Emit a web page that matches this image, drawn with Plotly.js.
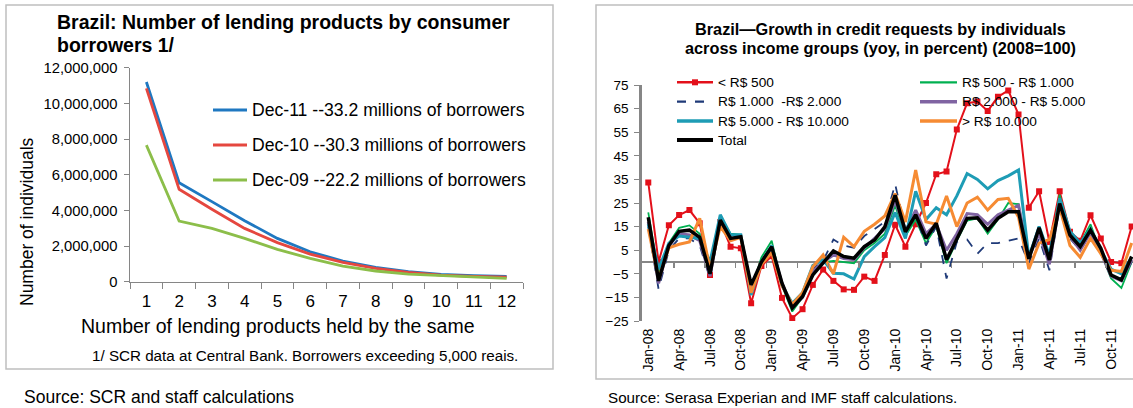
<!DOCTYPE html>
<html>
<head>
<meta charset="utf-8">
<script src="https://cdn.plot.ly/plotly-3.0.1.min.js"></script>
<style>html,body{margin:0;padding:0;background:#fff;}#chart{width:1133px;height:408px;}</style>
</head>
<body>
<div id="chart"></div>
<script>
// ---------- Left chart data ----------
const products = ['1','2','3','4','5','6','7','8','9','10','11','12'];
const dec11 = [11200000, 5550000, 4490000, 3420000, 2430000, 1680000, 1160000, 800000, 560000, 410000, 340000, 300000];
const dec10 = [10840000, 5180000, 4060000, 2990000, 2190000, 1550000, 1080000, 750000, 520000, 370000, 300000, 260000];
const dec09 = [7660000, 3400000, 2990000, 2430000, 1810000, 1310000, 880000, 600000, 430000, 340000, 280000, 190000];
const leftNames = ['Dec-11 --33.2 millions of borrowers', 'Dec-10 --30.3 millions of borrowers', 'Dec-09 --22.2 millions of borrowers'];
const leftColors = ['#1F78C1', '#E5473F', '#8CBE4A'];

// ---------- Right chart data ----------
const months = ['Jan-08','Feb-08','Mar-08','Apr-08','May-08','Jun-08','Jul-08','Aug-08','Sep-08','Oct-08','Nov-08','Dec-08',
  'Jan-09','Feb-09','Mar-09','Apr-09','May-09','Jun-09','Jul-09','Aug-09','Sep-09','Oct-09','Nov-09','Dec-09',
  'Jan-10','Feb-10','Mar-10','Apr-10','May-10','Jun-10','Jul-10','Aug-10','Sep-10','Oct-10','Nov-10','Dec-10',
  'Jan-11','Feb-11','Mar-11','Apr-11','May-11','Jun-11','Jul-11','Aug-11','Sep-11','Oct-11','Nov-11','Dec-11'];
const monthTicks = ['Jan-08','Apr-08','Jul-08','Oct-08','Jan-09','Apr-09','Jul-09','Oct-09','Jan-10','Apr-10','Jul-10','Oct-10','Jan-11','Apr-11','Jul-11','Oct-11'];
// quarter boundaries (between Mar/Apr, Jun/Jul, ...) as category-index positions for the small marks on the zero line
const quarterMarks = [2.5,5.5,8.5,11.5,14.5,17.5,20.5,23.5,26.5,29.5,32.5,35.5,38.5,41.5,44.5];
const incLt500 = [33.7,0,15.6,19.9,22,16.4,-5.5,17,6.5,5.8,-17.5,-1.7,
  2.5,-15.2,-23.8,-20,-9.7,-3.2,-8,-11.6,-11.8,-6.2,-8,3,
  15.8,6.5,16,25,37.2,38.4,56.1,67.3,68,64,70,72.7,
  62.5,23,30,8.5,30,12.8,9,19.8,10,0,-0.5,15];
const inc500_1000 = [21,-5,8,14.5,15.5,12,-4,19.5,12,11.5,-12,2,
  9,-10,-21,-15,-4,0,0.5,0,-0.5,5,8,12,
  24,11,18,8,15,-0.5,9,17.5,18.5,12,18,25,
  24.5,2,13,3,28.5,12,8,16,4,-7,-11,0];
const inc1000_2000 = [15,-11.5,5,10,10,7,-7,17,9,10.5,-12,0,
  5,-10,-19,-14,-3,0.5,9.5,7,6,11,14,17,
  33,14,20,7,15,-7,8.5,9.5,3.5,8,8,9,
  10,-0.5,10,-3.5,24,10,5,12,4,-6,-8,0];
const inc2000_5000 = [17,-9,7,12,11.5,9,-6,18,10,10.5,-11,0,
  6,-9,-19,-15,-4,0,3,1.5,1,6,10,14,
  26,13,22,12,16,5,12,20.5,20,16,20,22,
  24,2,12,-1,25,11,5,12.5,4,-6,-8,1];
const inc5000_10000 = [16,-3,8,11,10.5,10,0,20,11.5,11.5,-14,0,
  7,-10,-17.5,-13,-1.5,1,-4.8,-5,-7.2,2.3,6.5,10.3,
  21,10,30,18,23,20,28,37.5,35,31,34.5,36.5,
  39,2,15,3,27,13,8,14,5,-3,-5,2];
const incGt10000 = [14,-7,6,7.5,8.5,18.5,-3,15,9,10.5,-13,-1,
  4,-10,-18,-13,-2,3,-5,10.5,6.5,13,16,19.5,
  29,17,39,17,16,28,15,25,27.5,22,26.5,27,
  19,-3,8,9.5,23,7,2,10,3.5,-3.5,-4,8];
const incTotal = [19,-8,7,13,13.5,10.5,-5,17.8,10,10.7,-9.7,0,
  6.5,-9,-19.5,-14.6,-5.5,-0.5,4.7,2.3,1.6,6.5,9.3,14.9,
  28.3,12.8,20,10,16.4,1,10,18.5,18.7,13.5,18.5,21.3,
  21.3,1.3,14.5,0.9,24.8,11.4,6.5,13.5,5.8,-5.5,-7.6,2.3];
const rightNames = ['&lt; R$ 500','R$ 500 - R$ 1.000','R$ 1.000 \u00a0-R$ 2.000','R$ 2.000 - R$ 5.000','R$ 5.000 - R$ 10.000','&gt; R$ 10.000','Total'];

// ---------- helpers (page pixel -> paper fraction) ----------
const W = 1133, H = 408;
const X = px => px / W;
const Y = py => 1 - py / H;
const FONT = 'Liberation Sans, Arial, sans-serif';

const traces = [];
[dec11, dec10, dec09].forEach((s, k) => {
  traces.push({x: products, y: s, name: leftNames[k], type: 'scatter', mode: 'lines',
    line: {color: leftColors[k], width: 2.8}, xaxis: 'x', yaxis: 'y', showlegend: false});
});

const rightSeries = [
  [incLt500, '#E3101A', 2, 'solid', true],
  [inc500_1000, '#00B050', 1.8, 'solid', false],
  [inc1000_2000, '#1F3A78', 1.8, 'dash', false],
  [inc2000_5000, '#8064A2', 3, 'solid', false],
  [inc5000_10000, '#1E9CB5', 3, 'solid', false],
  [incGt10000, '#F68B33', 3, 'solid', false],
  [incTotal, '#000000', 3.5, 'solid', false]
];
// empty carrier trace so the overlaid tick-mark axis on the zero line is drawn
traces.push({x: [], y: [], type: 'scatter', mode: 'lines', xaxis: 'x3', yaxis: 'y2', showlegend: false, hoverinfo: 'skip'});
rightSeries.forEach((s, k) => {
  traces.push({x: months, y: s[0], name: rightNames[k], type: 'scatter', mode: s[4] ? 'lines+markers' : 'lines',
    line: {color: s[1], width: s[2], dash: s[3]}, marker: {symbol: 'square', size: 6, color: s[1]},
    xaxis: 'x2', yaxis: 'y2', showlegend: false});
});

const frameColor = '#BFBFBF';
const shapes = [
  {type: 'rect', xref: 'paper', yref: 'paper', x0: X(6), x1: X(553), y0: Y(369), y1: Y(5), line: {color: frameColor, width: 1.5}},
  {type: 'rect', xref: 'paper', yref: 'paper', x0: X(596), x1: X(1145), y0: Y(379), y1: Y(5), line: {color: frameColor, width: 1.5}}
];
const annotations = [
  {xref: 'paper', yref: 'paper', x: X(55), y: Y(22), xanchor: 'left', yanchor: 'middle', showarrow: false,
    text: '<b>Brazil: Number of lending products by consumer</b>', font: {size: 19.5, family: FONT}},
  {xref: 'paper', yref: 'paper', x: X(55), y: Y(45), xanchor: 'left', yanchor: 'middle', showarrow: false,
    text: '<b>borrowers 1/</b>', font: {size: 19.5, family: FONT}},
  {xref: 'paper', yref: 'paper', x: X(27), y: Y(222), xanchor: 'center', yanchor: 'middle', showarrow: false, textangle: -90,
    text: 'Number of individuals', font: {size: 17.5, family: FONT}},
  {xref: 'paper', yref: 'paper', x: X(277), y: Y(326), xanchor: 'center', yanchor: 'middle', showarrow: false,
    text: 'Number of lending products held by the same', font: {size: 19.5, family: FONT}},
  {xref: 'paper', yref: 'paper', x: X(305), y: Y(355), xanchor: 'center', yanchor: 'middle', showarrow: false,
    text: '1/ SCR data at Central Bank. Borrowers exceeding 5,000 reais.', font: {size: 15.2, family: FONT}},
  {xref: 'paper', yref: 'paper', x: X(22), y: Y(397), xanchor: 'left', yanchor: 'middle', showarrow: false,
    text: 'Source: SCR and staff calculations', font: {size: 17.5, family: FONT}},
  {xref: 'paper', yref: 'paper', x: X(880), y: Y(29), xanchor: 'center', yanchor: 'middle', showarrow: false,
    text: '<b>Brazil\u2014Growth in credit requests by individuals</b>', font: {size: 16.3, family: FONT}},
  {xref: 'paper', yref: 'paper', x: X(880), y: Y(48), xanchor: 'center', yanchor: 'middle', showarrow: false,
    text: '<b>across income groups (yoy, in percent) (2008=100)</b>', font: {size: 16.3, family: FONT}},
  {xref: 'paper', yref: 'paper', x: X(606), y: Y(397), xanchor: 'left', yanchor: 'middle', showarrow: false,
    text: 'Source: Serasa Experian and IMF staff calculations.', font: {size: 15.2, family: FONT}}
];

// ---------- legends (drawn as key samples + labels) ----------
const leftLegendRows = [110, 145, 180];
leftNames.forEach((nm, k) => {
  shapes.push({type: 'line', xref: 'paper', yref: 'paper', x0: X(213), x1: X(247), y0: Y(leftLegendRows[k]), y1: Y(leftLegendRows[k]),
    line: {color: leftColors[k], width: 3}});
  annotations.push({xref: 'paper', yref: 'paper', x: X(250), y: Y(leftLegendRows[k]), xanchor: 'left', yanchor: 'middle',
    showarrow: false, text: nm, font: {size: 17.6, family: FONT}});
});
const rightRows = [82.3, 101.7, 121, 140];
rightSeries.forEach((s, k) => {
  const col = k % 2, row = Math.floor(k / 2);
  const x0 = col === 0 ? 677 : 920, x1 = col === 0 ? 713 : 957, tx = col === 0 ? 716 : 960;
  const yy = rightRows[row];
  shapes.push({type: 'line', xref: 'paper', yref: 'paper', x0: X(x0), x1: X(x1), y0: Y(yy), y1: Y(yy),
    line: {color: s[1], width: s[2] + 0.5, dash: s[3]}});
  if (s[4]) {
    const cx = (x0 + x1) / 2;
    shapes.push({type: 'rect', xref: 'paper', yref: 'paper', x0: X(cx - 3), x1: X(cx + 3), y0: Y(yy + 3), y1: Y(yy - 3),
      line: {width: 0}, fillcolor: s[1]});
  }
  annotations.push({xref: 'paper', yref: 'paper', x: X(tx), y: Y(yy), xanchor: 'left', yanchor: 'middle',
    showarrow: false, text: rightNames[k], font: {size: 13.7, family: FONT}});
});

const layout = {
  width: W, height: H,
  margin: {l: 0, r: 0, t: 0, b: 0, pad: 0},
  paper_bgcolor: '#ffffff', plot_bgcolor: 'rgba(0,0,0,0)',
  font: {family: FONT, color: '#000000', size: 13},
  showlegend: false,
  xaxis: {domain: [X(130), X(523)], type: 'category', range: [-0.5, 11.5], tickson: 'boundaries',
    ticks: 'outside', ticklen: 6, tickcolor: '#868686', showline: true, linecolor: '#868686', linewidth: 1.5,
    showgrid: false, zeroline: false, tickfont: {size: 17, family: FONT}, ticklabelstandoff: 3, fixedrange: true},
  yaxis: {domain: [Y(281.7), Y(67.7)], range: [0, 12000000], dtick: 2000000, tickformat: ',d',
    ticks: 'outside', ticklen: 5, tickcolor: '#868686', showline: true, linecolor: '#868686', linewidth: 1.5,
    showgrid: false, zeroline: false, tickfont: {size: 14.8, family: FONT}, ticklabelstandoff: 3, fixedrange: true},
  xaxis2: {domain: [X(641.7), 1], type: 'category', categoryarray: months, range: [-0.64, 47.13],
    tickmode: 'array', tickvals: monthTicks, ticktext: monthTicks, tickangle: -90,
    ticks: '', showline: false, showgrid: false, zeroline: false, tickfont: {size: 14, family: FONT},
    ticklabelstandoff: 4, anchor: 'y2', fixedrange: true},
  xaxis3: {overlaying: 'x2', anchor: 'free', position: Y(262), type: 'linear', range: [-0.64, 47.13],
    tickmode: 'array', tickvals: quarterMarks, showticklabels: false, ticks: 'outside', ticklen: 5,
    tickcolor: '#868686', tickwidth: 1.5, showline: false, showgrid: false, zeroline: false, fixedrange: true},
  yaxis2: {domain: [Y(321), Y(85)], range: [-25, 75], tickmode: 'array',
    tickvals: [-25,-15,-5,5,15,25,35,45,55,65,75],
    ticks: 'outside', ticklen: 5, tickcolor: '#868686', showline: true, linecolor: '#868686', linewidth: 2.5,
    showgrid: false, zeroline: true, zerolinecolor: '#868686', zerolinewidth: 2,
    tickfont: {size: 13.5, family: FONT}, ticklabelstandoff: 3, anchor: 'x2', fixedrange: true},
  shapes: shapes,
  annotations: annotations
};

Plotly.newPlot('chart', traces, layout, {displayModeBar: false, staticPlot: true});
</script>
</body>
</html>
